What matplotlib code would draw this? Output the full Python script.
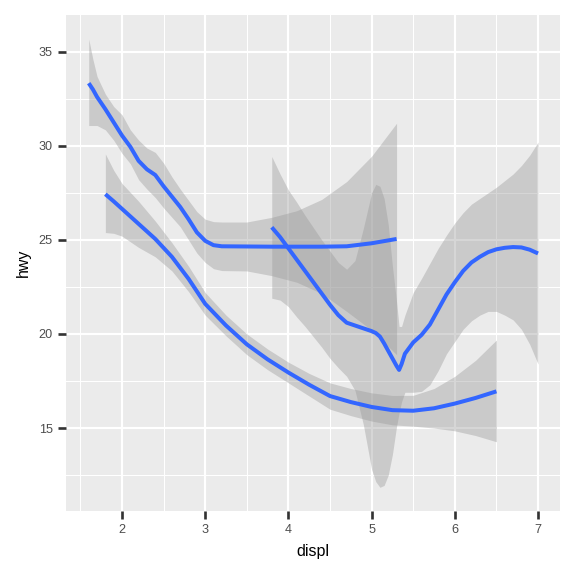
import matplotlib
matplotlib.use("Agg")
import matplotlib.pyplot as plt
from matplotlib.ticker import MultipleLocator

plt.rcParams['font.family'] = ['Liberation Sans', 'DejaVu Sans']

# ---- data ----
# drv = "4"
x_4 = [1.8, 1.9, 2.0, 2.2, 2.4, 2.6, 2.8, 3.0, 3.25, 3.5, 3.75, 4.0, 4.25, 4.5,
       4.75, 5.0, 5.25, 5.5, 5.75, 6.0, 6.25, 6.5]
mean_4 = [27.43, 27.05, 26.65, 25.85, 25.05, 24.1, 22.93, 21.6, 20.45, 19.45, 18.65,
          17.95, 17.3, 16.7, 16.38, 16.12, 15.95, 15.92, 16.05, 16.3, 16.6, 16.95]
upper_4 = [29.57, 28.7, 28.0, 27.05, 26.0, 24.85, 23.6, 22.2, 21.0, 20.0, 19.2,
           18.5, 17.9, 17.4, 17.1, 16.87, 16.73, 16.74, 17.1, 17.75, 18.6, 19.68]
lower_4 = [25.39, 25.35, 25.2, 24.6, 24.1, 23.35, 22.25, 21.0, 19.9, 18.9, 18.1,
           17.4, 16.7, 16.0, 15.66, 15.37, 15.17, 15.1, 15.0, 14.85, 14.6, 14.27]

# drv = "f"
x_f = [1.6, 1.65, 1.7, 1.8, 1.9, 2.0, 2.1, 2.2, 2.3, 2.4, 2.5, 2.6, 2.7, 2.8, 2.9,
       3.0, 3.1, 3.2, 3.5, 3.8, 4.1, 4.4, 4.7, 5.0, 5.3]
mean_f = [33.33, 33.0, 32.6, 31.95, 31.25, 30.55, 29.95, 29.2, 28.75, 28.45, 27.85,
          27.3, 26.75, 26.1, 25.4, 24.95, 24.72, 24.66, 24.65, 24.64, 24.64, 24.64,
          24.66, 24.82, 25.05]
upper_f = [35.68, 34.6, 33.69, 32.75, 32.09, 31.65, 30.85, 30.3, 29.88, 29.65, 29.08,
           28.35, 27.7, 27.1, 26.5, 26.1, 25.97, 25.95, 25.95, 26.2, 26.55, 27.15,
           28.1, 29.45, 31.2]
lower_f = [31.08, 31.08, 31.08, 30.85, 30.3, 29.6, 29.05, 28.2, 27.7, 27.25, 26.7,
           26.2, 25.7, 25.0, 24.3, 23.8, 23.47, 23.37, 23.35, 23.1, 22.75, 22.15,
           21.2, 20.2, 18.9]

# drv = "r"
x_r = [3.8, 3.9, 4.0, 4.1, 4.2, 4.3, 4.4, 4.5, 4.6, 4.7, 4.8, 4.9, 5.0, 5.05, 5.1,
       5.15, 5.2, 5.25, 5.3, 5.33, 5.36, 5.4, 5.5, 5.6, 5.7, 5.8, 5.9, 6.0, 6.1,
       6.2, 6.3, 6.4, 6.5, 6.6, 6.7, 6.8, 6.9, 7.0]
mean_r = [25.67, 25.15, 24.55, 23.95, 23.35, 22.75, 22.15, 21.55, 21.0, 20.6, 20.45,
          20.3, 20.15, 20.05, 19.86, 19.5, 19.1, 18.7, 18.3, 18.09, 18.4, 18.95,
          19.55, 19.95, 20.5, 21.3, 22.1, 22.75, 23.35, 23.8, 24.1, 24.35, 24.5,
          24.58, 24.62, 24.6, 24.48, 24.28]
upper_r = [29.43, 28.5, 27.65, 27.0, 26.3, 25.65, 25.0, 24.4, 23.8, 23.44, 23.9,
           25.6, 27.5, 27.95, 27.85, 27.2, 25.8, 23.6, 21.7, 20.4, 20.4, 21.0, 22.2,
           22.95, 23.75, 24.55, 25.25, 25.9, 26.45, 26.9, 27.2, 27.5, 27.8, 28.15,
           28.5, 28.95, 29.5, 30.2]
lower_r = [21.9, 21.8, 21.45, 20.9, 20.4, 19.85, 19.3, 18.7, 18.2, 17.75, 17.0,
           15.2, 12.8, 12.15, 11.85, 11.95, 12.5, 13.6, 15.1, 15.8, 16.4, 16.9, 16.9,
           16.95, 17.3, 18.05, 18.95, 19.6, 20.25, 20.7, 21.0, 21.2, 21.2, 21.0,
           20.75, 20.25, 19.45, 18.4]

groups = [
    (x_4, mean_4, lower_4, upper_4),
    (x_f, mean_f, lower_f, upper_f),
    (x_r, mean_r, lower_r, upper_r),
]

x_ticks = [2, 3, 4, 5, 6, 7]
y_ticks = [15, 20, 25, 30, 35]

# ---- figure ----
fig = plt.figure(figsize=(6, 6), dpi=96)
ax = fig.add_axes([66 / 576, 65 / 576, 494 / 576, 496.3 / 576])
ax.set_facecolor('#EBEBEB')
for s in ax.spines.values():
    s.set_visible(False)

ax.set_xlim(1.327, 7.264)
ax.set_ylim(10.59, 36.97)

ax.xaxis.set_minor_locator(MultipleLocator(0.5))
ax.yaxis.set_minor_locator(MultipleLocator(2.5))
ax.set_xticks(x_ticks)
ax.set_yticks(y_ticks)

ax.grid(which='major', color='white', linewidth=1.6)
ax.grid(which='minor', color='white', linewidth=0.8)
ax.set_axisbelow(True)

ax.tick_params(which='major', length=5.8, width=2.0, color='#333333',
               labelcolor='#4D4D4D', labelsize=9.5, pad=4)
ax.tick_params(which='minor', length=0)

for xs, m, lo, up in groups:
    ax.fill_between(xs, lo, up, color='#999999', alpha=0.4, linewidth=0, zorder=2)
    ax.plot(xs, m, color='#3366FF', linewidth=3.0, solid_capstyle='butt',
            solid_joinstyle='round', zorder=3)

ax.set_xlabel('displ', fontsize=12, color='black', labelpad=6)
ax.set_ylabel('hwy', fontsize=12, color='black', labelpad=6)

fig.savefig('out.png', dpi=96, facecolor='white')
